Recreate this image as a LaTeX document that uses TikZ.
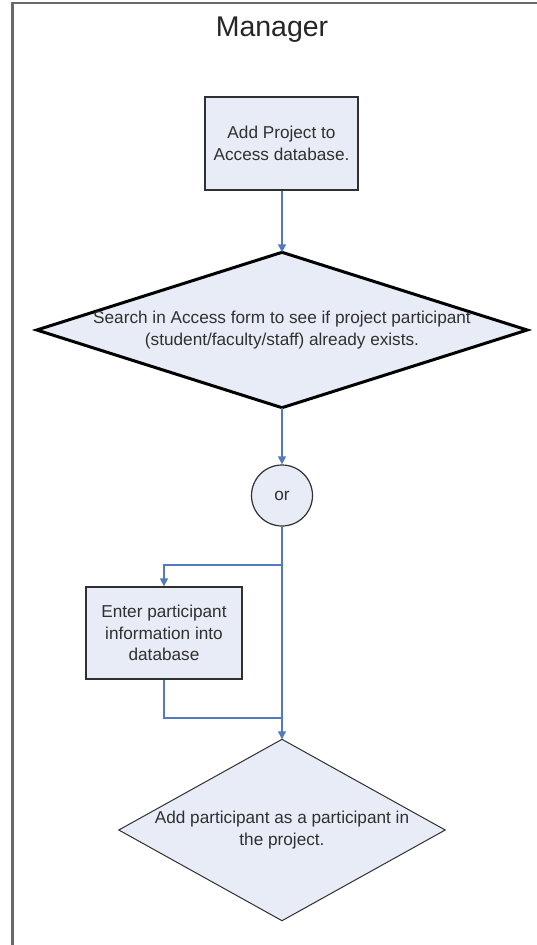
\documentclass[tikz,border=0pt]{standalone}
\usepackage{fontspec}
\setmainfont{Liberation Sans}
\usetikzlibrary{arrows.meta,backgrounds}

\definecolor{boxfill}{RGB}{232,236,246}
\definecolor{flowblue}{RGB}{84,122,190}
\definecolor{inkgray}{RGB}{48,48,48}
\definecolor{framegray}{RGB}{105,105,105}

\tikzset{
  lanetext/.style={font=\fontsize{17.2}{21.5}\selectfont, text=inkgray, align=center, inner sep=0pt},
  procbox/.style={lanetext, draw=inkgray, line width=1.3pt, fill=boxfill},
  decisiontext/.style={lanetext},
  joinbubble/.style={lanetext, circle, draw=inkgray, line width=1.2pt, fill=boxfill, minimum size=61pt},
  flow/.style={draw=flowblue, line width=1.2pt},
  flowarrow/.style={flow, -{Triangle[width=8pt,length=8pt]}},
}

\begin{document}
\begin{tikzpicture}[x=1pt,y=-1pt]
  \useasboundingbox (0,0) rectangle (537,945);

  % swimlane frame (runs off the right and bottom edges)
  \draw[framegray, line width=2.4pt] (12.5,950) -- (12.5,3) -- (545,3);

  % lane title
  \node[font=\fontsize{28.5}{32}\selectfont, text=black!85, anchor=base, inner sep=0pt] (title) at (272,36) {Manager};

  % process steps
  \node[procbox, minimum width=153pt, minimum height=93pt] (addproj) at (281.5,143.5)
    {Add Project to\\Access database.};
  \node[decisiontext, minimum width=490pt, minimum height=155pt] (search) at (282,330)
    {Search in Access form to see if project participant\\(student/faculty/staff) already exists.};
  \node[joinbubble] (orjoin) at (282,495.5) {or};
  \node[procbox, minimum width=156pt, minimum height=92pt] (enter) at (164,633)
    {Enter participant\\information into\\database};
  \node[decisiontext, minimum width=326pt, minimum height=181pt] (assign) at (282,830)
    {Add participant as a participant in\\the project.};

  % diamond outlines behind the decision texts
  \begin{scope}[on background layer]
    \filldraw[fill=boxfill, draw=black, line width=3pt, line join=miter]
      (search.north) -- (search.east) -- (search.south) -- (search.west) -- cycle;
    \filldraw[fill=boxfill, draw=inkgray, line width=1pt]
      (assign.north) -- (assign.east) -- (assign.south) -- (assign.west) -- cycle;
  \end{scope}

  % branch points on the main line
  \coordinate (split) at (282,565);
  \coordinate (merge) at (282,718);

  % connectors
  \draw[flowarrow] (addproj.south -| search.north) -- (search.north);
  \draw[flowarrow] (search.south) -- (orjoin.north);
  \draw[flowarrow] (orjoin.south) -- (assign.north);
  \draw[flowarrow] (split) -| (enter.north);
  \draw[flow] (enter.south) |- (merge);
\end{tikzpicture}
\end{document}
